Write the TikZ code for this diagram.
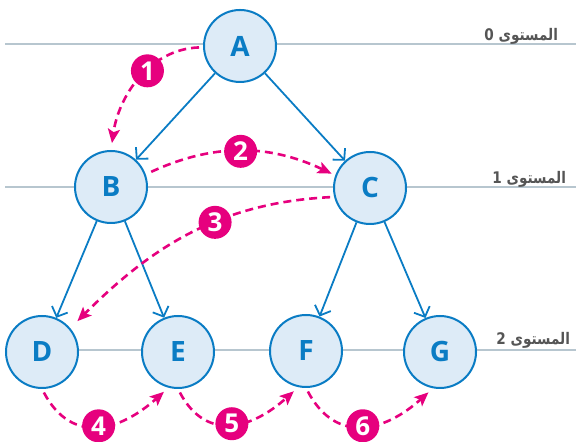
\documentclass[tikz,border=0pt]{standalone}
\usepackage{fontspec}
\setsansfont{Open Sans}
\newfontfamily\arabicfont[Script=Arabic,FakeStretch=0.85]{DejaVu Sans}
\TeXXeTstate=1
\usetikzlibrary{arrows.meta}
\definecolor{nodeblue}{HTML}{0A7CC4}
\definecolor{nodefill}{HTML}{DDEBF7}
\definecolor{stepink}{HTML}{E6007E}
\definecolor{levelgray}{HTML}{B7C6CF}
\definecolor{labelgray}{HTML}{555555}

\begin{document}
\begin{tikzpicture}[x=0.5pt,y=0.5pt,
  vertex/.style={circle,draw=nodeblue,line width=1pt,fill=nodefill,minimum size=36pt,
    inner sep=0pt,text=nodeblue,font=\sffamily\bfseries\fontsize{14}{14}\selectfont},
  edge/.style={draw=nodeblue,line width=0.9pt,-{Straight Barb[length=4pt,width=8.5pt]}},
  visit/.style={draw=stepink,line width=1.3pt,dash pattern=on 4pt off 2.5pt,
    -{Stealth[length=7pt,width=6pt,inset=1.5pt]},shorten <=2pt,shorten >=2pt},
  badge/.style={circle,fill=stepink,text=white,minimum size=16.5pt,inner sep=0pt,
    font=\sffamily\bfseries\fontsize{13}{13}\selectfont},
  level/.style={draw=levelgray,line width=0.8pt},
  levellabel/.style={anchor=base east,text=labelgray,font=\arabicfont\bfseries\fontsize{8}{8}\selectfont}]
\useasboundingbox (0,0) rectangle (576,442);

% levels
\draw[level] (5,398) -- (576,398);
\draw[level] (5,255) -- (576,255);
\draw[level] (5,92) -- (576,92);
\node[levellabel] (lvl0) at (565,401) {\beginR المستوى 0\endR};
\node[levellabel] (lvl1) at (573,258) {\beginR المستوى 1\endR};
\node[levellabel] (lvl2) at (577,97) {\beginR المستوى 2\endR};

% tree
\node[vertex] (A) at (240,396) {A};
\node[vertex] (B) at (111,255) {B};
\node[vertex] (C) at (370,254) {C};
\node[vertex] (D) at (42,90) {D};
\node[vertex] (E) at (178,90) {E};
\node[vertex] (F) at (306,91) {F};
\node[vertex] (G) at (440,90) {G};

\draw[edge] (A) -- (B);
\draw[edge] (A) -- (C);
\draw[edge] (B) -- (D);
\draw[edge] (B) -- (E);
\draw[edge] (C) -- (F);
\draw[edge] (C) -- (G);

% visiting order
\draw[visit,shorten >=3.5pt] (A.182) to[out=182,in=82] node[badge,pos=0.42] {1} (B.north);
\draw[visit,shorten <=3pt] (B.20) to[bend left=25] node[badge] {2} (C.160);
\draw[visit,shorten >=5pt] (C.194) to[out=183,in=45] node[badge,pos=0.4] {3} (D.40);
\draw[visit,shorten >=3pt] (D.south) to[out=-62,in=-138,looseness=1.3] node[badge] {4} (E.255);
\draw[visit,shorten >=3pt] (E.south) to[out=-62,in=-138,looseness=1.3] node[badge] {5} (F.258);
\draw[visit,shorten >=3pt] (F.south) to[out=-62,in=-138,looseness=1.3] node[badge] {6} (G.259);
\end{tikzpicture}
\end{document}
